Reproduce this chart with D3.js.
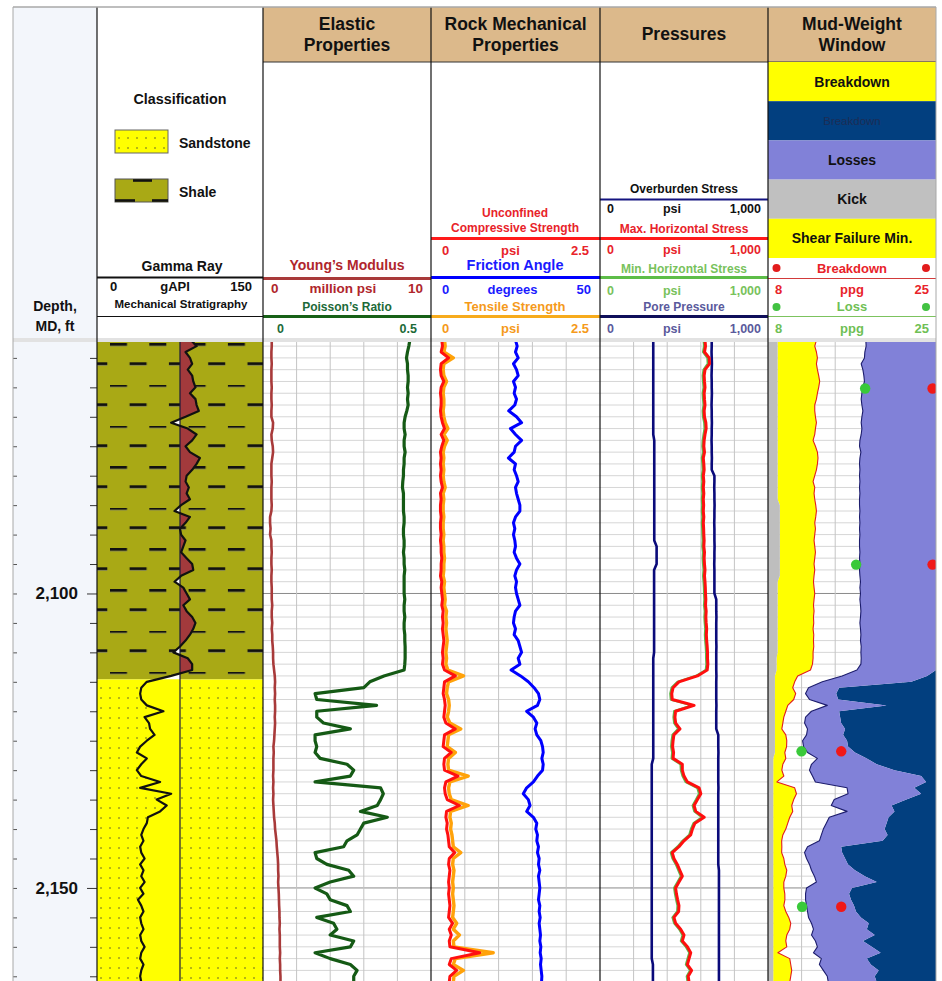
<!DOCTYPE html>
<html>
<head>
<meta charset="utf-8">
<script src="https://cdn.jsdelivr.net/npm/d3@7"></script>
<style>
  body { margin: 0; background: #fff; }
  svg { display: block; font-family: "Liberation Sans", Arial, sans-serif; }
</style>
</head>
<body>
<div id="chart"></div>
<script>
// ---- data (one sample per foot, MD) ----
const depthFt = [
  2057, 2058, 2059,
  2060, 2061, 2062, 2063, 2064, 2065, 2066, 2067, 2068, 2069,
  2070, 2071, 2072, 2073, 2074, 2075, 2076, 2077, 2078, 2079,
  2080, 2081, 2082, 2083, 2084, 2085, 2086, 2087, 2088, 2089,
  2090, 2091, 2092, 2093, 2094, 2095, 2096, 2097, 2098, 2099,
  2100, 2101, 2102, 2103, 2104, 2105, 2106, 2107, 2108, 2109,
  2110, 2111, 2112, 2113, 2114, 2115, 2116, 2117, 2118, 2119,
  2120, 2121, 2122, 2123, 2124, 2125, 2126, 2127, 2128, 2129,
  2130, 2131, 2132, 2133, 2134, 2135, 2136, 2137, 2138, 2139,
  2140, 2141, 2142, 2143, 2144, 2145, 2146, 2147, 2148, 2149,
  2150, 2151, 2152, 2153, 2154, 2155, 2156, 2157, 2158, 2159,
  2160, 2161, 2162, 2163, 2164, 2165, 2166
];

// lithology intervals
const lithNames = ["Shale", "Sandstone"];
const lithTops = [2057, 2114.6];
const lithBases = [2114.6, 2166];

// gamma ray, gAPI
const gammaRay = [
  85, 90, 80,
  84, 86, 82, 86, 87, 89, 84, 89, 90, 92,
  80, 67, 82, 90, 86, 80, 84, 93, 90, 86,
  81, 80, 83, 81, 84, 76, 70, 84, 80, 75,
  76, 80, 78, 76, 81, 86, 87, 76, 70, 78,
  81, 84, 78, 81, 86, 89, 87, 84, 80, 75,
  69, 82, 86, 86, 67, 45, 40, 39, 40, 45,
  60, 43, 47, 48, 52, 45, 39, 36, 45, 40,
  36, 40, 57, 39, 67, 54, 63, 57, 46, 45,
  42, 40, 42, 39, 40, 43, 39, 42, 40, 43,
  39, 42, 37, 40, 42, 39, 40, 42, 39, 40,
  43, 40, 39, 42, 40, 39, 40
];
const grCutoff = 75;

// Young's modulus, million psi
const youngs = [
  0.52, 0.52, 0.5,
  0.5, 0.52, 0.5, 0.5, 0.5, 0.52, 0.5, 0.5, 0.52, 0.5,
  0.5, 0.6, 0.58, 0.5, 0.52, 0.58, 0.6, 0.55, 0.5, 0.5,
  0.5, 0.52, 0.5, 0.5, 0.5, 0.52, 0.5, 0.42, 0.42, 0.45,
  0.42, 0.5, 0.5, 0.52, 0.5, 0.5, 0.52, 0.5, 0.5, 0.52,
  0.52, 0.52, 0.55, 0.52, 0.52, 0.55, 0.52, 0.55, 0.55, 0.58,
  0.6, 0.6, 0.62, 0.66, 0.7, 0.72, 0.7, 0.72, 0.7, 0.72,
  0.72, 0.7, 0.72, 0.7, 0.68, 0.66, 0.62, 0.64, 0.62, 0.62,
  0.62, 0.6, 0.62, 0.6, 0.62, 0.6, 0.62, 0.64, 0.66, 0.7,
  0.72, 0.76, 0.8, 0.82, 0.85, 0.88, 0.9, 0.9, 0.92, 0.9,
  0.92, 0.94, 0.95, 0.96, 0.98, 0.98, 1.0, 0.98, 1.0, 1.0,
  1.0, 1.02, 1.0, 1.02, 1.02, 1.04, 1.04
];

// Poisson's ratio
const poisson = [
  0.437, 0.434, 0.43,
  0.427, 0.43, 0.43, 0.432, 0.432, 0.43, 0.432, 0.43, 0.432, 0.428,
  0.423, 0.42, 0.42, 0.423, 0.42, 0.42, 0.423, 0.42, 0.42, 0.418,
  0.418, 0.416, 0.415, 0.418, 0.418, 0.418, 0.418, 0.42, 0.42, 0.418,
  0.418, 0.42, 0.42, 0.418, 0.42, 0.42, 0.422, 0.42, 0.42, 0.42,
  0.42, 0.422, 0.42, 0.42, 0.422, 0.42, 0.42, 0.422, 0.422, 0.423,
  0.423, 0.423, 0.422, 0.42, 0.36, 0.318, 0.30, 0.155, 0.16, 0.338,
  0.16, 0.16, 0.18, 0.26, 0.155, 0.155, 0.16, 0.155, 0.17, 0.25,
  0.27, 0.26, 0.155, 0.35, 0.358, 0.35, 0.34, 0.29, 0.37, 0.30,
  0.29, 0.28, 0.25, 0.24, 0.155, 0.16, 0.19, 0.255, 0.27, 0.2,
  0.155, 0.19, 0.2, 0.25, 0.26, 0.16, 0.21, 0.22, 0.2, 0.27,
  0.26, 0.155, 0.2, 0.26, 0.28, 0.27, 0.27
];

// unconfined compressive strength, psi
const ucs = [
  0.16, 0.17, 0.15,
  0.26, 0.15, 0.14, 0.15, 0.19, 0.15, 0.14, 0.15, 0.15, 0.14,
  0.15, 0.17, 0.2, 0.15, 0.19, 0.16, 0.14, 0.15, 0.14, 0.15,
  0.14, 0.15, 0.17, 0.14, 0.15, 0.14, 0.14, 0.15, 0.14, 0.14,
  0.15, 0.14, 0.15, 0.15, 0.16, 0.15, 0.15, 0.14, 0.16, 0.15,
  0.16, 0.17, 0.16, 0.18, 0.17, 0.18, 0.17, 0.18, 0.19, 0.18,
  0.17, 0.18, 0.17, 0.2, 0.36, 0.2, 0.19, 0.18, 0.2, 0.21,
  0.2, 0.19, 0.22, 0.36, 0.2, 0.19, 0.18, 0.3, 0.2, 0.19,
  0.2, 0.4, 0.22, 0.2, 0.21, 0.24, 0.42, 0.23, 0.22, 0.24,
  0.23, 0.25, 0.26, 0.27, 0.35, 0.27, 0.26, 0.28, 0.27, 0.26,
  0.27, 0.26, 0.27, 0.28, 0.27, 0.26, 0.32, 0.27, 0.3, 0.27,
  0.28, 0.72, 0.3, 0.27, 0.38, 0.28, 0.27
];

// tensile strength, psi
const tensile = [
  0.2, 0.21, 0.19,
  0.33, 0.19, 0.18, 0.19, 0.23, 0.19, 0.18, 0.19, 0.19, 0.18,
  0.19, 0.21, 0.25, 0.19, 0.24, 0.2, 0.18, 0.19, 0.18, 0.19,
  0.18, 0.19, 0.21, 0.18, 0.19, 0.18, 0.18, 0.19, 0.18, 0.18,
  0.19, 0.18, 0.19, 0.19, 0.2, 0.19, 0.19, 0.18, 0.2, 0.19,
  0.2, 0.21, 0.2, 0.23, 0.22, 0.23, 0.22, 0.23, 0.24, 0.23,
  0.22, 0.23, 0.22, 0.25, 0.48, 0.26, 0.24, 0.23, 0.26, 0.27,
  0.26, 0.24, 0.28, 0.44, 0.26, 0.25, 0.24, 0.36, 0.26, 0.25,
  0.26, 0.55, 0.28, 0.26, 0.27, 0.3, 0.55, 0.29, 0.28, 0.3,
  0.29, 0.31, 0.32, 0.33, 0.44, 0.33, 0.32, 0.34, 0.33, 0.32,
  0.33, 0.32, 0.33, 0.34, 0.33, 0.32, 0.38, 0.33, 0.42, 0.33,
  0.34, 0.92, 0.36, 0.33, 0.48, 0.34, 0.33
];

// friction angle, degrees
const friction = [
  25, 25.5, 25,
  25.8, 24.4, 25.3, 25.8, 24.4, 25, 24.6, 25.3, 24.8, 23,
  25.3, 26.8, 23.5, 25, 26.8, 25, 24.6, 22.9, 25, 24.6,
  25.3, 25.8, 25, 25.3, 25.8, 26.3, 26.3, 25, 24.4, 24.8,
  24.4, 24.8, 25, 24.6, 25.3, 26.3, 25.3, 24.8, 25.3, 25,
  25.3, 25.8, 26.3, 25, 24.6, 24.4, 25, 24.6, 25.8, 26.3,
  26.8, 25.8, 26.3, 23.7, 26.5, 28.8, 30.5, 31.8, 32.2, 31.5,
  28.3, 30.3, 31.3, 30.8, 31.3, 32.5, 33, 33.2, 32.8, 33.2,
  33, 31.5, 30.3, 28.3, 27.3, 28.8, 29.3, 28.3, 30.3, 31.3,
  31, 31.5, 31.3, 31.8, 31.5, 32, 31.8, 32.2, 31.8, 32,
  32.2, 32, 31.8, 32.2, 32, 32.3, 32, 32.2, 32.4, 32.2,
  32.5, 32.3, 32.6, 32.4, 32.6, 32.8, 32.7
];

// pressures, psi
const overburden = [
  665, 665, 664,
  665, 666, 665, 664, 665, 665, 666, 665, 664, 665,
  665, 666, 665, 665, 664, 665, 665, 666, 665, 665,
  681, 681, 680, 681, 681, 682, 681, 681, 680, 681,
  681, 681, 682, 681, 681, 680, 681, 681, 681, 681,
  681, 692, 692, 692, 693, 692, 692, 692, 692, 693,
  692, 692, 692, 692, 693, 692, 692, 692, 692, 693,
  692, 692, 692, 692, 704, 704, 704, 705, 704, 704,
  704, 704, 704, 705, 704, 704, 704, 704, 704, 704,
  704, 704, 704, 704, 704, 704, 704, 708, 708, 708,
  708, 708, 708, 708, 708, 708, 708, 708, 708, 708,
  708, 708, 708, 708, 708, 708, 708
];
const maxHorizStress = [
  625, 628, 622,
  650, 652, 625, 620, 622, 625, 620, 622, 625, 620,
  622, 630, 632, 625, 620, 618, 622, 615, 618, 620,
  615, 618, 615, 618, 615, 617, 615, 618, 615, 617,
  618, 620, 618, 622, 620, 622, 625, 622, 625, 627,
  628, 630, 628, 632, 630, 632, 635, 633, 635, 638,
  640, 640, 642, 638, 580, 470, 435, 427, 430, 560,
  450, 446, 450, 476, 440, 435, 432, 438, 435, 490,
  490, 500, 520, 590, 600, 580, 560, 570, 620, 565,
  550, 540, 500, 470, 430, 440, 460, 475, 490, 470,
  450, 455, 462, 470, 468, 440, 450, 480, 500, 490,
  520, 540, 530, 520, 545, 525, 530
];
const minHorizStress = [
  617, 620, 614,
  640, 642, 617, 612, 614, 617, 612, 614, 617, 612,
  614, 621, 623, 617, 612, 610, 614, 607, 610, 612,
  607, 610, 607, 610, 607, 609, 607, 610, 607, 609,
  610, 612, 610, 614, 612, 614, 617, 614, 617, 619,
  620, 622, 620, 624, 622, 624, 627, 625, 627, 630,
  632, 632, 634, 630, 572, 462, 427, 419, 422, 550,
  442, 438, 442, 466, 432, 427, 424, 430, 427, 480,
  482, 492, 510, 580, 590, 572, 552, 562, 608, 557,
  542, 532, 492, 462, 422, 432, 452, 467, 482, 462,
  442, 447, 454, 462, 460, 432, 442, 472, 492, 482,
  512, 532, 522, 512, 537, 517, 522
];
const porePressure = [
  317, 317, 317,
  317, 317, 317, 317, 317, 317, 317, 317, 317, 317,
  317, 317, 317, 317, 323, 323, 323, 323, 323, 323,
  323, 323, 323, 323, 323, 323, 323, 323, 323, 323,
  323, 323, 337, 337, 337, 337, 322, 322, 322, 322,
  322, 322, 322, 322, 322, 322, 322, 322, 322, 322,
  322, 317, 317, 317, 317, 317, 317, 317, 317, 317,
  317, 317, 317, 317, 317, 317, 317, 317, 317, 308,
  308, 308, 308, 308, 308, 308, 308, 308, 308, 308,
  308, 308, 308, 308, 308, 308, 308, 308, 308, 308,
  308, 308, 308, 308, 308, 308, 308, 308, 308, 308,
  308, 308, 308, 315, 315, 315, 315
];

// mud-weight window, ppg
const kickMw = [
  8.97, 8.97, 8.97,
  8.97, 8.97, 8.97, 8.97, 8.97, 8.97, 8.97, 8.97, 8.97, 8.97,
  8.97, 8.97, 8.97, 8.97, 8.97, 8.97, 8.97, 8.97, 8.97, 8.97,
  8.97, 8.97, 8.97, 8.97, 8.97, 9.2, 9.2, 9.2, 9.2, 9.2,
  9.2, 9.2, 9.2, 9.2, 9.2, 9.2, 9.2, 9.2, 8.97, 8.97,
  8.97, 8.97, 8.97, 8.97, 8.97, 8.97, 8.97, 8.97, 8.97, 8.97,
  8.97, 8.87, 8.87, 8.87, 8.7, 8.7, 8.7, 8.7, 8.7, 8.7,
  8.7, 8.7, 8.7, 8.7, 8.7, 8.7, 8.7, 8.7, 8.53, 8.53,
  8.53, 8.53, 8.53, 8.53, 8.53, 8.53, 8.53, 8.53, 8.53, 8.53,
  8.53, 8.53, 8.53, 8.53, 8.53, 8.53, 8.53, 8.53, 8.53, 8.53,
  8.53, 8.53, 8.53, 8.53, 8.53, 8.53, 8.53, 8.53, 8.53, 8.53,
  8.53, 8.53, 8.53, 8.53, 8.53, 8.53, 8.53
];
const shearFailureMw = [
  12.9, 12.73, 12.9,
  13.0, 12.9, 13.0, 13.13, 13.23, 13.13, 13.0, 12.9, 12.73, 12.73,
  12.8, 12.9, 12.8, 12.73, 12.56, 12.8, 13.0, 13.06, 13.0, 12.9,
  12.73, 12.56, 12.73, 12.66, 12.73, 12.83, 12.9, 12.83, 12.73, 12.8,
  12.73, 12.66, 12.73, 12.8, 12.73, 12.66, 12.73, 12.66, 12.6, 12.66,
  12.73, 12.66, 12.6, 12.66, 12.6, 12.63, 12.56, 12.63, 12.6, 12.63,
  12.56, 12.56, 12.5, 12.3, 11.0, 10.7, 10.5, 10.8, 10.6, 10.0,
  9.8, 9.6, 9.5, 9.4, 9.8, 9.9, 9.88, 9.7, 9.8, 9.5,
  9.4, 9.6, 8.9, 10.7, 10.88, 10.6, 10.4, 10.5, 10.2, 10.0,
  9.8, 9.5, 9.38, 9.4, 9.38, 9.6, 9.7, 9.9, 9.8, 9.6,
  9.6, 9.7, 9.71, 9.6, 9.8, 10.1, 10.3, 10.2, 9.9, 9.8,
  9.9, 9.0, 10.2, 10.3, 10.4, 10.3, 10.2
];
const lossMw = [
  17.9, 17.93, 17.8,
  17.76, 17.43, 17.6, 17.7, 17.76, 17.6, 17.5, 17.43, 17.5, 17.6,
  17.5, 17.43, 17.5, 17.43, 17.3, 17.26, 17.4, 17.3, 17.26, 17.3,
  17.26, 17.3, 17.26, 17.3, 17.26, 17.26, 17.3, 17.26, 17.3, 17.26,
  17.3, 17.26, 17.26, 17.3, 17.26, 17.3, 17.26, 17.3, 17.36, 17.3,
  17.36, 17.3, 17.36, 17.4, 17.36, 17.3, 17.36, 17.4, 17.36, 17.43,
  17.4, 17.43, 17.4, 17.0, 15.5, 13.5, 12.1, 11.8, 12.2, 14.0,
  12.4, 11.8, 11.7, 12.0, 11.9, 11.5, 11.6, 12.0, 13.0, 12.4,
  12.2, 12.5, 12.8, 16.0, 16.1, 14.7, 14.4, 16.0, 14.2, 13.9,
  13.6, 13.4, 13.2, 12.0, 11.7, 11.9, 12.2, 12.4, 12.7, 12.9,
  11.9, 11.8, 11.8, 11.9, 12.0, 12.1, 12.4, 12.6, 12.4, 12.8,
  13.0, 12.6, 13.4, 13.2, 13.6, 14.0, 14.1
];
const breakdownMw = [
  26, 26, 26,
  26, 26, 26, 26, 26, 26, 26, 26, 26, 26,
  26, 26, 26, 26, 26, 26, 26, 26, 26, 26,
  26, 26, 26, 26, 26, 26, 26, 26, 26, 26,
  26, 26, 26, 26, 26, 26, 26, 26, 26, 26,
  26, 26, 26, 26, 26, 26, 26, 26, 26, 26,
  26, 26, 26, 25.5, 24.1, 22.5, 15.2, 14.9, 15.1, 20,
  15.2, 15.3, 15.4, 15.8, 15.6, 16.0, 16.1, 16.8, 18.0, 19.0,
  20.8, 23.5, 24.0, 22.8, 23.5, 22.0, 20.5, 20.8, 20.2, 20.0,
  19.8, 20.1, 19.6, 15.4, 15.5, 15.8, 16.1, 16.8, 17.8, 19.0,
  16.5, 16.2, 16.4, 16.7, 16.9, 17.4, 18.2, 18.0, 18.8, 17.6,
  18.5, 19.4, 18.0, 18.4, 19.2, 18.8, 19.0
];

// calibration points
const pointDepths = [2065.2, 2095.1, 2126.8, 2153.2];
const lossPoints = [17.83, 16.92, 11.39, 11.45];
const breakdownPoints = [24.65, 24.65, 15.41, 15.41];

// scale ranges
const grRange = [0, 150];
const ymRange = [0, 10];
const prRange = [0, 0.5];
const ucsRange = [0, 2.5];
const faRange = [0, 50];
const psiRange = [0, 1000];
const ppgRange = [8, 25];
const majorDepths = [2100, 2150];

// ---- layout ----
const W = 942, H = 981;
const frameTop = 7, plotTop = 342, plotBottom = 981;
const tracks = {
  depth: [13, 97], lith: [97, 263], elastic: [263, 431],
  rock: [431, 600], press: [600, 768], mww: [768, 936]
};
const BOLD = "bold";

const svg = d3.select("#chart").append("svg").attr("width", W).attr("height", H);
const defs = svg.append("defs");

const y = d3.scaleLinear().domain([2057.3, 2165.8]).range([plotTop, plotBottom]);
const rows = depthFt.map((d, i) => ({
  d, gr: gammaRay[i], ym: youngs[i], pr: poisson[i], ucs: ucs[i], ts: tensile[i],
  fa: friction[i], ob: overburden[i], shmax: maxHorizStress[i], shmin: minHorizStress[i],
  pp: porePressure[i], kick: kickMw[i], shear: shearFailureMw[i], loss: lossMw[i], brk: breakdownMw[i]
}));

function xs(track, range) {
  return d3.scaleLinear().domain(range).range(tracks[track]).clamp(true);
}
function txt(g, x, yb, s, size, color, anchor = "middle", weight = BOLD) {
  return g.append("text").attr("x", x).attr("y", yb).text(s)
    .attr("font-size", size).attr("fill", color).attr("text-anchor", anchor).attr("font-weight", weight);
}
function hline(g, x0, x1, yy, color, w) {
  g.append("line").attr("x1", x0).attr("x2", x1).attr("y1", yy).attr("y2", yy)
    .attr("stroke", color).attr("stroke-width", w);
}
function clipTrack(id, x0, x1) {
  defs.append("clipPath").attr("id", id).append("rect")
    .attr("x", x0).attr("y", plotTop).attr("width", x1 - x0).attr("height", plotBottom - plotTop);
  return `url(#${id})`;
}

// patterns
const sand = defs.append("pattern").attr("id", "sand").attr("patternUnits", "userSpaceOnUse")
  .attr("x", 99).attr("y", 346).attr("width", 9).attr("height", 10);
sand.append("rect").attr("width", 9).attr("height", 10).attr("fill", "#ffff00");
sand.append("circle").attr("cx", 2).attr("cy", 2).attr("r", 0.75).attr("fill", "#4a4a30");

const shale = defs.append("pattern").attr("id", "shale").attr("patternUnits", "userSpaceOnUse")
  .attr("x", 110).attr("y", 343).attr("width", 39.3).attr("height", 41);
shale.append("rect").attr("width", 39.3).attr("height", 41).attr("fill", "#a9a915");
[[0, 0], [19.6, 19.3], [-19.7, 19.3]].forEach(([dx, dy]) => {
  shale.append("rect").attr("x", dx).attr("y", dy + 2.4).attr("width", 17).attr("height", 1).attr("fill", "#7a7a60");
  shale.append("rect").attr("x", dx).attr("y", dy).attr("width", 17).attr("height", 2.6).attr("fill", "#111");
});

// ---- backgrounds & frame ----
svg.append("rect").attr("x", tracks.depth[0]).attr("y", frameTop).attr("width", tracks.depth[1] - tracks.depth[0])
  .attr("height", H - frameTop).attr("fill", "#f3f6fb");
svg.append("rect").attr("x", 97).attr("y", frameTop).attr("width", 936 - 97).attr("height", H - frameTop).attr("fill", "#fff");
svg.append("rect").attr("x", 263).attr("y", frameTop).attr("width", 936 - 263).attr("height", 62 - frameTop).attr("fill", "#dcb98b");
hline(svg, 263, 936, 62, "#333", 1);
svg.append("rect").attr("x", 13).attr("y", 338).attr("width", 923).attr("height", 4).attr("fill", "#e2e2e2");

// ---- grids ----
const gridDepths = d3.range(2058, 2167, 2);
["elastic", "rock", "press", "mww"].forEach(t => {
  const [x0, x1] = tracks[t];
  const g = svg.append("g").attr("clip-path", clipTrack("grid-" + t, x0, x1));
  const gx = d3.scaleLinear().domain([0, 5]).range([x0, x1]);
  g.selectAll("line.h").data(gridDepths).join("line")
    .attr("x1", x0).attr("x2", x1).attr("y1", d => y(d)).attr("y2", d => y(d))
    .attr("stroke", d => majorDepths.includes(d) ? "#8a8a8a" : "#d6d6d6").attr("stroke-width", 1);
  g.selectAll("line.v").data([1, 2, 3, 4]).join("line")
    .attr("x1", d => gx(d)).attr("x2", d => gx(d)).attr("y1", plotTop).attr("y2", plotBottom)
    .attr("stroke", "#c4c4c4").attr("stroke-width", 1);
});

// ---- lithology / gamma ray track ----
{
  const [x0, x1] = tracks.lith;
  const g = svg.append("g").attr("clip-path", clipTrack("lith", x0, x1));
  g.selectAll("rect.lith").data(lithNames).join("rect")
    .attr("x", x0).attr("width", x1 - x0)
    .attr("y", (n, i) => y(lithTops[i])).attr("height", (n, i) => y(lithBases[i]) - y(lithTops[i]))
    .attr("fill", n => n === "Shale" ? "url(#shale)" : "url(#sand)");

  const xg = xs("lith", grRange);
  const xc = xg(grCutoff);
  const yb = y(lithBases[0]);
  defs.append("clipPath").attr("id", "grR").append("rect").attr("x", xc).attr("y", plotTop).attr("width", x1 - xc).attr("height", plotBottom - plotTop);
  defs.append("clipPath").attr("id", "grLU").append("rect").attr("x", x0).attr("y", plotTop).attr("width", xc - x0).attr("height", yb - plotTop);
  defs.append("clipPath").attr("id", "grLD").append("rect").attr("x", x0).attr("y", yb).attr("width", xc - x0).attr("height", plotBottom - yb);
  const grArea = d3.area().y(r => y(r.d)).x0(xc).x1(r => xg(r.gr));
  g.append("path").datum(rows).attr("d", grArea).attr("fill", "#a23a3c").attr("clip-path", "url(#grR)");
  g.append("path").datum(rows).attr("d", grArea).attr("fill", "#ffffff").attr("clip-path", "url(#grLU)");
  g.append("path").datum(rows).attr("d", grArea).attr("fill", "#ffff00").attr("clip-path", "url(#grLD)");
  g.append("line").attr("x1", xc).attr("x2", xc).attr("y1", plotTop).attr("y2", plotBottom).attr("stroke", "#1a1a3a").attr("stroke-width", 1.2);
  g.append("path").datum(rows).attr("d", d3.line().x(r => xg(r.gr)).y(r => y(r.d)))
    .attr("fill", "none").attr("stroke", "#111").attr("stroke-width", 2.2).attr("stroke-linejoin", "round");
}

function curve(g, xScale, key, color, width) {
  g.append("path").datum(rows).attr("d", d3.line().x(r => xScale(r[key])).y(r => y(r.d)))
    .attr("fill", "none").attr("stroke", color).attr("stroke-width", width).attr("stroke-linejoin", "round");
}

// ---- elastic ----
{
  const g = svg.append("g").attr("clip-path", clipTrack("el", ...tracks.elastic));
  curve(g, xs("elastic", ymRange), "ym", "#a83a3a", 2.6);
  curve(g, xs("elastic", prRange), "pr", "#155a15", 3.2);
}
// ---- rock mechanical ----
{
  const g = svg.append("g").attr("clip-path", clipTrack("rk", ...tracks.rock));
  const xu = xs("rock", ucsRange);
  curve(g, xu, "ts", "#ffa20a", 3.4);
  curve(g, xu, "ucs", "#ff1010", 3);
  curve(g, xs("rock", faRange), "fa", "#0000ff", 3);
}
// ---- pressures ----
{
  const g = svg.append("g").attr("clip-path", clipTrack("pr", ...tracks.press));
  const xp = xs("press", psiRange);
  curve(g, xp, "pp", "#0a0a7a", 2.6);
  curve(g, xp, "ob", "#0a0a7a", 2.6);
  curve(g, xp, "shmin", "#5cb84a", 2.4);
  curve(g, xp, "shmax", "#ff0f0f", 3);
}
// ---- mud-weight window ----
{
  const g = svg.append("g").attr("clip-path", clipTrack("mw", ...tracks.mww));
  const xm = xs("mww", ppgRange);
  const band = (lo, hi, color) => g.append("path").datum(rows)
    .attr("d", d3.area().y(r => y(r.d)).x0(lo).x1(hi)).attr("fill", color);
  band(r => xm(r.brk), xm(ppgRange[1]), "#023f7f");
  band(r => xm(r.loss), r => xm(r.brk), "#8181d8");
  band(r => xm(r.kick), r => xm(r.shear), "#ffff00");
  band(xm(ppgRange[0]), r => xm(r.kick), "#bebebe");
  curve(g, xm, "loss", "#1c1c6c", 1.1);
  curve(g, xm, "shear", "#e21d1d", 1.1);
  g.selectAll("circle.loss").data(pointDepths).join("circle")
    .attr("cx", (d, i) => xm(lossPoints[i])).attr("cy", d => y(d)).attr("r", 5.2).attr("fill", "#39c939");
  g.selectAll("circle.brk").data(pointDepths).join("circle")
    .attr("cx", (d, i) => xm(breakdownPoints[i])).attr("cy", d => y(d)).attr("r", 5.2).attr("fill", "#f01818");
}

// ---- depth track ----
{
  const minor = d3.range(2060, 2166, 5).filter(d => !majorDepths.includes(d));
  svg.append("g").attr("transform", "translate(97,0)")
    .call(d3.axisLeft(y).tickValues(minor).tickSize(7).tickFormat(""))
    .call(a => a.select(".domain").remove())
    .call(a => a.selectAll("line").attr("stroke", "#333"));
  svg.append("g").attr("transform", "translate(97,0)")
    .call(d3.axisLeft(y).tickValues(majorDepths).tickSize(10).tickPadding(9).tickFormat(d3.format(",")))
    .call(a => a.select(".domain").remove())
    .call(a => a.selectAll("line").attr("stroke", "#333"))
    .call(a => a.selectAll("text").attr("font-size", 17).attr("font-weight", BOLD)
      .attr("font-family", "Liberation Sans, Arial, sans-serif").attr("fill", "#111"));
  svg.append("g").attr("transform", "translate(13,0)")
    .call(d3.axisRight(y).tickValues(d3.range(2060, 2166, 5)).tickSize(4).tickFormat(""))
    .call(a => a.select(".domain").remove())
    .call(a => a.selectAll("line").attr("stroke", "#555"));
}

// ---- headers ----
const hdr = svg.append("g");
const fmt = d3.format(",");
function scaleRow(track, yb, range, unit, color, size, o = {}) {
  const [x0, x1] = tracks[track];
  txt(hdr, x0 + (o.l ?? 9), yb, fmt(range[0]), size, color, "start");
  txt(hdr, (x0 + x1) / 2 + (o.dx ?? 0), yb, unit, o.us ?? size, color);
  txt(hdr, x1 - (o.r ?? 8), yb, fmt(range[1]), size, color, "end");
}
const trackTitles = [["elastic", ["Elastic", "Properties"]], ["rock", ["Rock Mechanical", "Properties"]],
  ["press", ["Pressures"]], ["mww", ["Mud-Weight", "Window"]]];
trackTitles.forEach(([t, lines]) => {
  const cx = (tracks[t][0] + tracks[t][1]) / 2;
  if (lines.length === 1) txt(hdr, cx, 40, lines[0], 17.5, "#111");
  else lines.forEach((s, i) => txt(hdr, cx, 30 + i * 21, s, 17.5, "#111"));
});

// depth header
txt(hdr, 55, 311, "Depth,", 14, "#111");
txt(hdr, 55, 331, "MD, ft", 14, "#111");

// lithology header
txt(hdr, 180, 104, "Classification", 14.3, "#111");
hdr.append("rect").attr("x", 115).attr("y", 130).attr("width", 53).attr("height", 23)
  .attr("fill", "url(#sand)").attr("stroke", "#666").attr("stroke-width", 1);
txt(hdr, 179, 148, lithNames[1], 14, "#111", "start");
hdr.append("rect").attr("x", 115).attr("y", 179).attr("width", 53).attr("height", 23)
  .attr("fill", "#a9a915").attr("stroke", "#555").attr("stroke-width", 1);
hline(hdr, 133, 152, 180.5, "#111", 2.6);
hline(hdr, 115, 135, 200.5, "#111", 2.6);
hline(hdr, 152, 168, 200.5, "#111", 2.6);
txt(hdr, 179, 197, lithNames[0], 14, "#111", "start");
txt(hdr, 182, 271, "Gamma Ray", 14, "#111");
hline(hdr, 97, 263, 277.5, "#111", 2.2);
scaleRow("lith", 291, grRange, "gAPI", "#111", 13, { l: 13, r: 11, dx: -5 });
txt(hdr, 181, 308, "Mechanical Stratigraphy", 11.5, "#111");
hline(hdr, 97, 263, 316.5, "#111", 1);

// elastic header
txt(hdr, 347, 270, "Young’s Modulus", 14, "#b0262c");
hline(hdr, 263, 431, 278.5, "#a83a3a", 3);
scaleRow("elastic", 293, ymRange, "million psi", "#b0262c", 13.5, { l: 8, r: 8, dx: -4 });
txt(hdr, 347, 311, "Poisson’s Ratio", 12, "#1c6a38");
hline(hdr, 263, 431, 316.5, "#176117", 3);
scaleRow("elastic", 333, prRange, "", "#1c6a38", 12.5, { l: 14, r: 14 });

// rock header
txt(hdr, 515, 217, "Unconfined", 12, "#e8232a");
txt(hdr, 515, 232, "Compressive Strength", 12, "#e8232a");
hline(hdr, 431, 600, 238.5, "#ff1a1a", 3);
scaleRow("rock", 255, ucsRange, "psi", "#e8232a", 13, { l: 11, r: 11, dx: -5 });
txt(hdr, 515, 270, "Friction Angle", 14.5, "#1a1aff");
hline(hdr, 431, 600, 277.5, "#0000ff", 3);
scaleRow("rock", 294, faRange, "degrees", "#1a1aff", 13, { l: 11, r: 9, dx: -3 });
txt(hdr, 515, 311, "Tensile Strength", 13, "#f59a1b");
hline(hdr, 431, 600, 316.5, "#f7ab1c", 3);
scaleRow("rock", 333, ucsRange, "psi", "#f59a1b", 13, { l: 11, r: 11, dx: -5 });

// pressures header
txt(hdr, 684, 193, "Overburden Stress", 12, "#111");
hline(hdr, 600, 768, 199.5, "#141480", 2);
scaleRow("press", 213, psiRange, "psi", "#111", 12.5, { l: 7, r: 7, dx: -12 });
txt(hdr, 684, 233, "Max. Horizontal Stress", 12, "#e8232a");
hline(hdr, 600, 768, 238.5, "#ff1a1a", 3);
scaleRow("press", 254, psiRange, "psi", "#e8232a", 12.5, { l: 7, r: 7, dx: -12 });
txt(hdr, 684, 273, "Min. Horizontal Stress", 12, "#78c25c");
hline(hdr, 600, 768, 277.5, "#5dbd48", 3);
scaleRow("press", 295, psiRange, "psi", "#78c25c", 12.5, { l: 7, r: 7, dx: -12 });
txt(hdr, 684, 311, "Pore Pressure", 12, "#5a5a9c");
hline(hdr, 600, 768, 316.5, "#0f0f5a", 3);
scaleRow("press", 333, psiRange, "psi", "#5a5a9c", 12.5, { l: 7, r: 7, dx: -12 });

// mud-weight window header
{
  const [x0, x1] = tracks.mww;
  const cx = (x0 + x1) / 2;
  const boxes = [
    ["Breakdown", "#ffff00", "#111", BOLD, 14],
    ["Breakdown", "#023f7f", "#1c2d55", "normal", 11.5],
    ["Losses", "#8181d8", "#111", BOLD, 14],
    ["Kick", "#c0c0c0", "#111", BOLD, 14],
    ["Shear Failure Min.", "#ffff00", "#111", BOLD, 14]
  ];
  const by = d3.scaleLinear().domain([0, 5]).range([62, 258]);
  boxes.forEach(([s, fill, col, w, fs], i) => {
    hdr.append("rect").attr("x", x0).attr("y", by(i)).attr("width", x1 - x0).attr("height", by(i + 1) - by(i)).attr("fill", fill);
    txt(hdr, cx, (by(i) + by(i + 1)) / 2 + fs * 0.36, s, fs, col, "middle", w);
  });
  txt(hdr, cx, 273, "Breakdown", 13, "#e8232a");
  [776.5, 926].forEach(x => hdr.append("circle").attr("cx", x).attr("cy", 268).attr("r", 4).attr("fill", "#e21c1c"));
  hline(hdr, x0, x1, 278.5, "#d23a3a", 1.2);
  scaleRow("mww", 294, ppgRange, "ppg", "#e8232a", 13, { l: 7, r: 7 });
  txt(hdr, cx, 311, "Loss", 13, "#6fbf55");
  [776.5, 926].forEach(x => hdr.append("circle").attr("cx", x).attr("cy", 307).attr("r", 4).attr("fill", "#42c242"));
  hline(hdr, x0, x1, 316.5, "#7cc35e", 1.2);
  scaleRow("mww", 333, ppgRange, "ppg", "#6fbf55", 13, { l: 7, r: 7 });
}

// ---- track separators & frame ----
[97, 263, 431, 600, 768].forEach(x =>
  svg.append("line").attr("x1", x).attr("x2", x).attr("y1", frameTop).attr("y2", H).attr("stroke", "#111").attr("stroke-width", 1.2));
svg.append("line").attr("x1", 13).attr("x2", 13).attr("y1", frameTop).attr("y2", H).attr("stroke", "#a8a8a8");
svg.append("line").attr("x1", 936).attr("x2", 936).attr("y1", frameTop).attr("y2", H).attr("stroke", "#a8a8a8");
hline(svg, 13, 936, frameTop, "#a8a8a8", 1.5);
</script>
</body>
</html>
